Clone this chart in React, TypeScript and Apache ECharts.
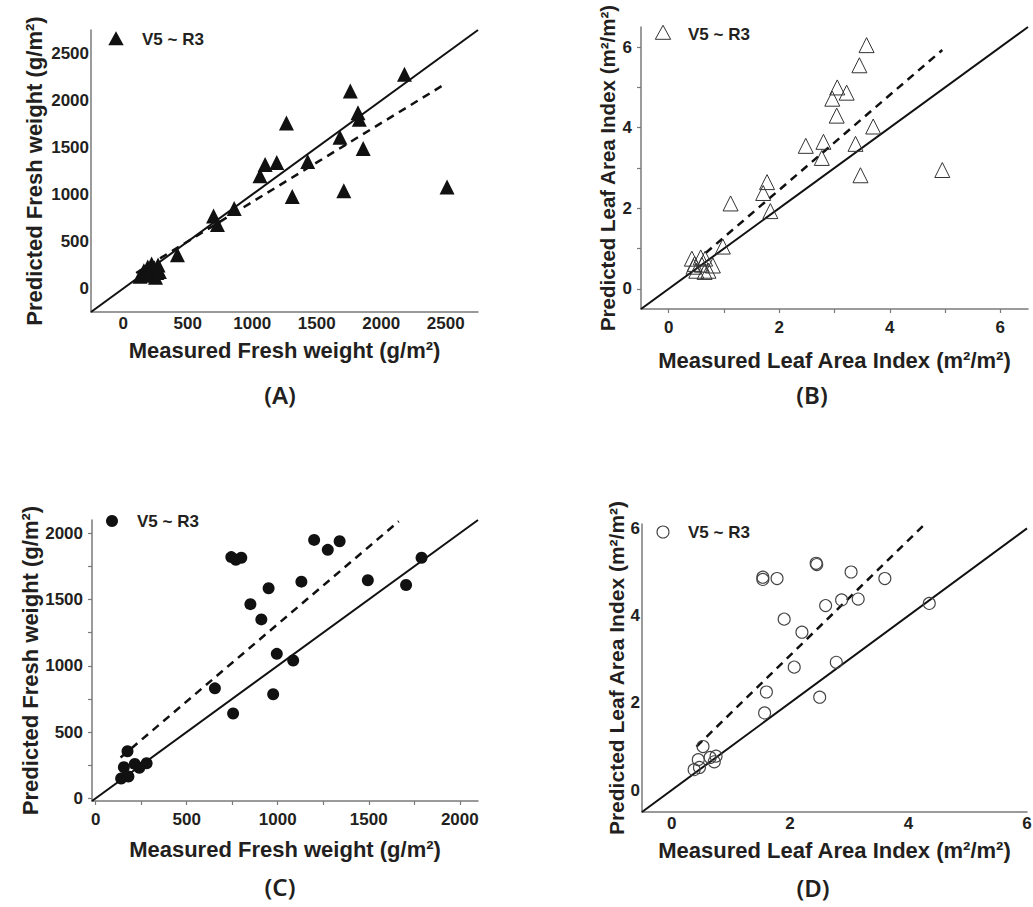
import React, { useEffect, useRef } from "react";
import * as echarts from "echarts";

// ---------- Data ----------
// (A) Fresh weight, V5 ~ R3 (filled triangles)
const freshA_measured = [2180, 1760, 1820, 1830, 1265, 1680, 1860, 1100, 1060, 1190, 1430, 1310, 1710, 2510, 860, 700, 730, 420, 130, 160, 190, 220, 240, 260, 230, 270, 200, 250, 280];
const freshA_predicted = [2280, 2100, 1870, 1800, 1760, 1610, 1490, 1320, 1200, 1340, 1350, 980, 1040, 1080, 850, 770, 680, 360, 130, 190, 230, 260, 210, 170, 140, 250, 150, 120, 180];
const fitA = [[100, 165], [2500, 2180]];

// (B) Leaf area index (hollow triangles)
const laiB_measured = [3.58, 3.45, 3.05, 3.22, 2.96, 3.04, 3.7, 2.48, 2.8, 2.77, 3.38, 3.47, 4.95, 1.78, 1.71, 1.84, 1.12, 0.98, 0.42, 0.47, 0.58, 0.66, 0.72, 0.8, 0.5, 0.65, 0.45, 0.6];
const laiB_predicted = [6.05, 5.55, 5.0, 4.87, 4.72, 4.3, 4.03, 3.55, 3.65, 3.25, 3.6, 2.82, 2.95, 2.65, 2.38, 1.93, 2.12, 1.05, 0.75, 0.62, 0.78, 0.75, 0.45, 0.58, 0.45, 0.42, 0.55, 0.6];
const fitB = [[0.67, 0.89], [4.95, 5.93]];

// (C) Fresh weight (filled circles)
const freshC_measured = [745, 770, 800, 1200, 1275, 1340, 1790, 1130, 1495, 1705, 950, 850, 910, 995, 1085, 975, 655, 755, 175, 155, 215, 240, 280, 140, 180];
const freshC_predicted = [1820, 1800, 1815, 1950, 1875, 1940, 1815, 1635, 1645, 1610, 1585, 1465, 1350, 1090, 1040, 785, 830, 640, 355, 235, 260, 230, 265, 150, 165];
const fitC = [[137, 308], [1665, 2090]];

// (D) Leaf area index (hollow circles)
const laiD_measured = [2.44, 2.45, 3.03, 1.54, 1.54, 1.78, 3.6, 4.35, 2.87, 3.15, 2.6, 1.9, 2.2, 2.07, 2.78, 1.6, 2.5, 1.57, 0.53, 0.45, 0.38, 0.47, 0.65, 0.75, 0.72];
const laiD_predicted = [5.2, 5.17, 5.0, 4.88, 4.83, 4.85, 4.85, 4.28, 4.36, 4.38, 4.23, 3.92, 3.62, 2.82, 2.93, 2.25, 2.13, 1.77, 1.0, 0.7, 0.47, 0.52, 0.75, 0.78, 0.65];
const fitD = [[0.42, 1.0], [4.24, 6.05]];

const freshTicksA = [0, 500, 1000, 1500, 2000, 2500];
const freshTicksC = [0, 500, 1000, 1500, 2000];
const freshMinorC = [0, 250, 500, 750, 1000, 1250, 1500, 1750, 2000];
const laiTicks = [0, 2, 4, 6];
const laiMinor = [0, 1, 2, 3, 4, 5, 6];

const legendName = "V5 ~ R3";
const xTitleFresh = "Measured Fresh weight (g/m²)";
const yTitleFresh = "Predicted Fresh weight (g/m²)";
const xTitleLai = "Measured Leaf Area Index (m²/m²)";
const yTitleLai = "Predicted Leaf Area Index (m²/m²)";
const panelLabels = ["(A)", "(B)", "(C)", "(D)"];

const FONT = "'Liberation Sans', Arial, sans-serif";
const TXT = "#231f20";
const AXIS = "#7a7a7a";

function zip(a: number[], b: number[]) {
  return a.map((v, i) => [v, b[i]]);
}

function axis(o: any) {
  return {
    type: "value",
    gridIndex: o.grid,
    min: o.min,
    max: o.max,
    splitLine: { show: false },
    axisLine: { show: true, onZero: false, lineStyle: { color: AXIS, width: 1.5 } },
    axisTick: o.ticks
      ? { show: true, inside: false, length: 4, customValues: o.ticks, lineStyle: { color: AXIS, width: 1.2 } }
      : { show: false },
    axisLabel: {
      customValues: o.labels,
      formatter: (v: number) => String(v),
      margin: o.margin,
      fontSize: 17,
      fontWeight: "bold",
      color: TXT,
      fontFamily: FONT,
    },
    name: o.name,
    nameLocation: "middle",
    nameGap: o.nameGap,
    nameTextStyle: { fontSize: o.nameSize || 22, fontWeight: "bold", color: TXT, fontFamily: FONT },
  };
}

function lineSeries(idx: number, data: number[][], dashed: boolean) {
  return {
    type: "line",
    xAxisIndex: idx,
    yAxisIndex: idx,
    data,
    symbol: "none",
    silent: true,
    lineStyle: { color: "#111", width: dashed ? 2.5 : 2, type: dashed ? [8, 6] : "solid" },
    z: 2,
  };
}

export default function App() {
  const ref = useRef<HTMLDivElement>(null);
  useEffect(() => {
    if (!ref.current) return;
    const chart = echarts.init(ref.current, undefined, { renderer: "svg" });

    const grids = [
      { left: 91, top: 30, width: 387, height: 282 },
      { left: 641, top: 27, width: 387, height: 282 },
      { left: 92, top: 520, width: 386, height: 281 },
      { left: 642, top: 524, width: 385, height: 288 },
    ].map((g) => ({ ...g, outerBoundsMode: "none", containLabel: false }));

    const xAxes = [
      axis({ grid: 0, min: -250, max: 2750, labels: freshTicksA, margin: 3, name: xTitleFresh, nameGap: 27 }),
      axis({ grid: 1, min: -0.5, max: 6.5, labels: laiTicks, ticks: laiMinor, margin: 10, name: xTitleLai, nameGap: 40 }),
      axis({ grid: 2, min: -20, max: 2100, labels: freshTicksC, ticks: freshMinorC, margin: 10, name: xTitleFresh, nameGap: 37 }),
      axis({ grid: 3, min: -0.5, max: 6, labels: laiTicks, margin: 3, name: xTitleLai, nameGap: 27 }),
    ];
    const yAxes = [
      axis({ grid: 0, min: -250, max: 2750, labels: freshTicksA, margin: 2, name: yTitleFresh, nameGap: 46 }),
      axis({ grid: 1, min: -0.5, max: 6.5, labels: laiTicks, ticks: laiMinor, margin: 9, name: yTitleLai, nameGap: 23, nameSize: 20.5 }),
      axis({ grid: 2, min: -20, max: 2100, labels: freshTicksC, ticks: freshMinorC, margin: 9, name: yTitleFresh, nameGap: 48 }),
      axis({ grid: 3, min: -0.5, max: 6.1, labels: laiTicks, margin: 2, name: yTitleLai, nameGap: 15, nameSize: 21 }),
    ];

    const series: any[] = [
      lineSeries(0, [[-250, -250], [2750, 2750]], false),
      lineSeries(0, fitA, true),
      {
        type: "scatter", name: legendName, xAxisIndex: 0, yAxisIndex: 0,
        data: zip(freshA_measured, freshA_predicted),
        symbol: "triangle", symbolSize: 15,
        itemStyle: { color: "#111", opacity: 1 }, z: 3,
      },
      lineSeries(1, [[-0.5, -0.5], [6.5, 6.5]], false),
      lineSeries(1, fitB, true),
      {
        type: "scatter", name: legendName, xAxisIndex: 1, yAxisIndex: 1,
        data: zip(laiB_measured, laiB_predicted),
        symbol: "triangle", symbolSize: 15,
        itemStyle: { color: "rgba(0,0,0,0)", borderColor: "#333", borderWidth: 1, opacity: 1 }, z: 3,
      },
      lineSeries(2, [[-20, -20], [2100, 2100]], false),
      lineSeries(2, fitC, true),
      {
        type: "scatter", name: legendName, xAxisIndex: 2, yAxisIndex: 2,
        data: zip(freshC_measured, freshC_predicted),
        symbol: "circle", symbolSize: 12,
        itemStyle: { color: "#111", opacity: 1 }, z: 3,
      },
      lineSeries(3, [[-0.5, -0.5], [6, 6]], false),
      lineSeries(3, fitD, true),
      {
        type: "scatter", name: legendName, xAxisIndex: 3, yAxisIndex: 3,
        data: zip(laiD_measured, laiD_predicted),
        symbol: "circle", symbolSize: 12,
        itemStyle: { color: "rgba(0,0,0,0)", borderColor: "#444", borderWidth: 1.1, opacity: 1 }, z: 3,
      },
    ];

    const tri = (cx: number, cy: number, s: number) => [
      [cx, cy - s * 0.55],
      [cx + s * 0.55, cy + s * 0.45],
      [cx - s * 0.55, cy + s * 0.45],
    ];
    const legendText = (x: number, y: number) => ({
      type: "text", x, y,
      style: { text: legendName, font: `bold 17px ${FONT}`, fill: TXT, verticalAlign: "middle" },
    });
    const panelText = (i: number, x: number, y: number) => ({
      type: "text", x, y,
      style: { text: panelLabels[i], font: `600 24px 'Noto Sans', sans-serif`, fill: TXT, align: "center", verticalAlign: "top" },
    });

    const graphic: any[] = [
      { type: "polygon", shape: { points: tri(116, 39, 14) }, style: { fill: "#111" } },
      legendText(142, 39),
      { type: "polygon", shape: { points: tri(663, 33, 14) }, style: { fill: "none", stroke: "#333", lineWidth: 1 } },
      legendText(688, 34),
      { type: "circle", shape: { cx: 112, cy: 521, r: 6 }, style: { fill: "#111" } },
      legendText(137, 521),
      { type: "circle", shape: { cx: 663, cy: 532, r: 6 }, style: { fill: "none", stroke: "#444", lineWidth: 1.1 } },
      legendText(688, 532),
      panelText(0, 280, 382),
      panelText(1, 812, 382),
      panelText(2, 280, 874),
      panelText(3, 813, 875),
    ];

    chart.setOption({
      animation: false,
      backgroundColor: "#ffffff",
      grid: grids,
      xAxis: xAxes,
      yAxis: yAxes,
      series,
      graphic,
    });
    return () => chart.dispose();
  }, []);

  return (
    <div
      ref={ref}
      style={{ position: "absolute", left: 0, top: 0, width: 1033, height: 907, background: "#fff" }}
    />
  );
}
